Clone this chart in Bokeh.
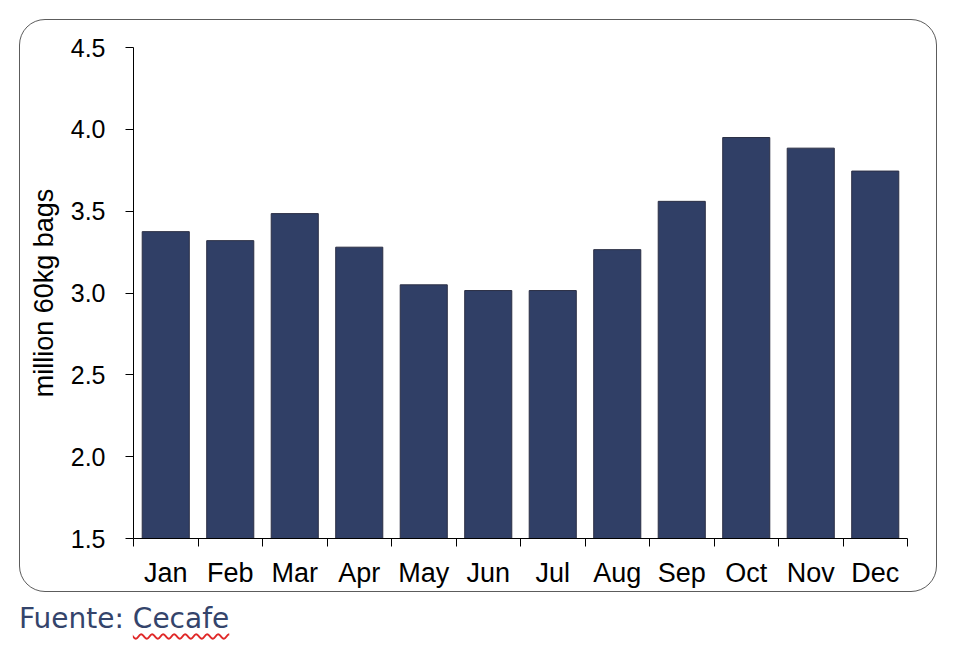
from bokeh.plotting import figure
from bokeh.models import Range1d, FixedTicker, Div, NumeralTickFormatter
from bokeh.layouts import column
from bokeh.embed import file_html
from bokeh.resources import INLINE

months = ["Jan", "Feb", "Mar", "Apr", "May", "Jun",
          "Jul", "Aug", "Sep", "Oct", "Nov", "Dec"]
bags = [3.375, 3.32, 3.485, 3.28, 3.05, 3.015, 3.015, 3.265, 3.56, 3.95, 3.885, 3.745]
y_ticks = [1.5, 2.0, 2.5, 3.0, 3.5, 4.0, 4.5]

xpos = [i + 0.5 for i in range(len(months))]

p = figure(width=918, height=573, output_backend="svg", toolbar_location=None,
           x_range=Range1d(0, len(months)), y_range=Range1d(1.5, 4.5),
           min_border_left=113, min_border_right=31, min_border_top=27,
           min_border_bottom=55, margin=(19, 0, 0, 19))
p.styles = {"border": "1.5px solid #5c5c5c", "border-radius": "26px"}
p.border_fill_color = None
p.outline_line_color = None
p.grid.grid_line_color = None

p.vbar(x=xpos, top=bags, bottom=1.5, width=0.73,
       fill_color="#303f66", line_color="#2b2f45", line_width=1)

xa = p.xaxis[0]
xa.ticker = FixedTicker(ticks=xpos, minor_ticks=list(range(len(months) + 1)))
xa.major_label_overrides = {x: m for x, m in zip(xpos, months)}
xa.major_tick_out = 0
xa.major_tick_in = 0
xa.minor_tick_out = 8
xa.minor_tick_in = 0
xa.minor_tick_line_color = "black"
xa.major_label_standoff = 11
xa.major_label_text_font = "Liberation Sans"
xa.major_label_text_font_size = "27px"
xa.major_label_text_color = "black"

ya = p.yaxis[0]
ya.ticker = FixedTicker(ticks=y_ticks)
ya.formatter = NumeralTickFormatter(format="0.0")
ya.major_tick_out = 8
ya.major_tick_in = 0
ya.minor_tick_out = 0
ya.minor_tick_in = 0
ya.major_label_standoff = 20
ya.major_label_text_font = "Liberation Sans"
ya.major_label_text_font_size = "25px"
ya.major_label_text_color = "black"
ya.axis_label = "million 60kg bags"
ya.axis_label_text_font = "Liberation Sans"
ya.axis_label_text_font_size = "27px"
ya.axis_label_text_font_style = "normal"
ya.axis_label_text_color = "black"
ya.axis_label_standoff = 9

for ax in (xa, ya):
    ax.axis_line_color = "black"
    ax.major_tick_line_color = "black"

note = Div(text='Fuente: <span style="text-decoration: underline wavy #e02828;'
                ' text-decoration-thickness: 1.5px; text-underline-offset: 5px;">Cecafe</span>',
           width=400, height=44, margin=(7, 0, 0, 19),
           styles={"font-family": "DejaVu Sans", "font-size": "28px", "color": "#34446b"})

layout = column(p, note, spacing=0)
open("out.html", "w").write(file_html(layout, INLINE))
